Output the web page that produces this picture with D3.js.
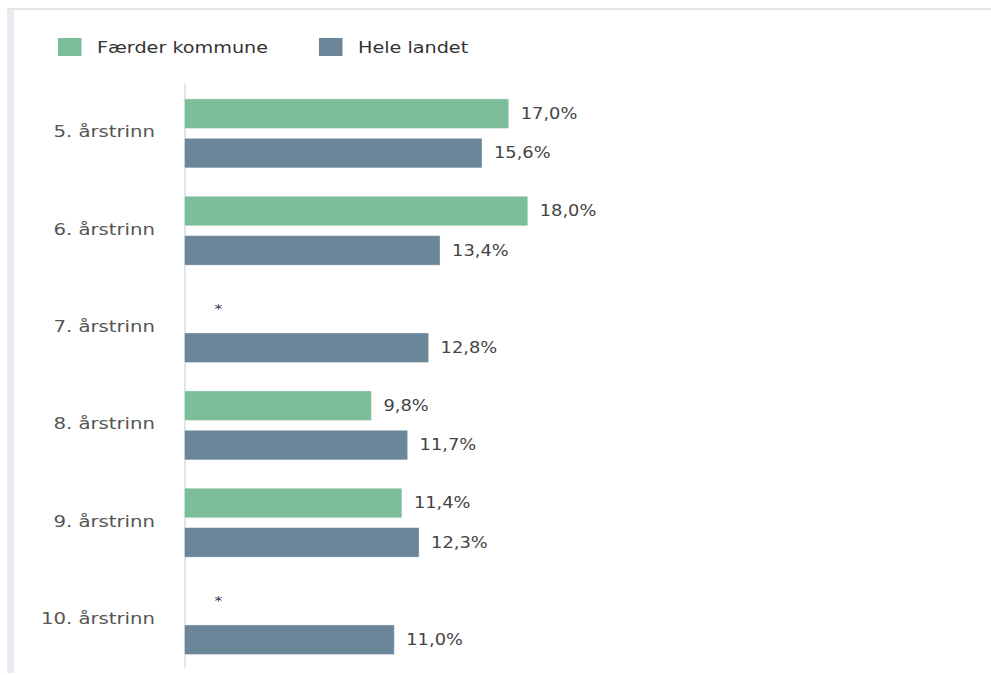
<!DOCTYPE html>
<html>
<head>
<meta charset="utf-8">
<script src="https://cdn.jsdelivr.net/npm/d3@7"></script>
<style>
  html, body { margin: 0; padding: 0; background: #fff; }
  svg { display: block; }
  text { font-family: "DejaVu Sans", "Liberation Sans", Arial, sans-serif; }
</style>
</head>
<body>
<svg id="chart" width="991" height="675"></svg>
<script>
// Andel elever per årstrinn (prosent)
const categories = ["5. årstrinn", "6. årstrinn", "7. årstrinn", "8. årstrinn", "9. årstrinn", "10. årstrinn"];
const seriesNames = ["Færder kommune", "Hele landet"];
const faerderValues = [17.0, 18.0, null, 9.8, 11.4, null];   // null = skjermet (*)
const landetValues  = [15.6, 13.4, 12.8, 11.7, 12.3, 11.0];
const seriesColors  = ["#7dbe9a", "#6b8599"];
const hiddenMark = "*";

const svg = d3.select("#chart");
const W = 991, H = 675;

// panel frame
svg.append("rect").attr("x", 7).attr("y", 8).attr("width", W - 7).attr("height", 2).attr("fill", "#e4e4e4");
svg.append("rect").attr("x", 7).attr("y", 10).attr("width", 7).attr("height", 663).attr("fill", "#e8ebf0");

const x = d3.scaleLinear().domain([0, 40]).range([184.5, 947.3]);
const y = d3.scaleBand().domain(categories).range([83, 667]).paddingInner(0).paddingOuter(0);
const ySeries = d3.scaleBand().domain(seriesNames).range([0, y.bandwidth()])
  .paddingInner(0.25).paddingOuter(0.36).align(0.56);

const nb = d3.formatLocale({ decimal: ",", thousands: " ", grouping: [3], currency: ["", " kr"] });
const fmt = v => nb.format(".1f")(v) + "%";

const rows = [];
categories.forEach((c, i) => {
  rows.push({ cat: c, series: seriesNames[0], value: faerderValues[i], color: seriesColors[0] });
  rows.push({ cat: c, series: seriesNames[1], value: landetValues[i], color: seriesColors[1] });
});

// category axis
const yAxis = d3.axisLeft(y).tickSize(0).tickPadding(0);
const gAxis = svg.append("g").attr("transform", "translate(184.5,0)").call(yAxis);
gAxis.select(".domain").attr("stroke", "#c8d2e6").attr("stroke-width", 1.2);
gAxis.selectAll(".tick text").remove();
gAxis.selectAll(".tick").append("text")
  .attr("transform", "translate(-29.5,0) scale(1.23,1)")
  .attr("text-anchor", "end")
  .attr("dy", "0.35em")
  .attr("fill", "#555")
  .attr("font-size", 16)
  .text(d => d);

// bars
const plot = svg.append("g");
const drawn = rows.filter(r => r.value != null);
plot.selectAll("rect.bar").data(drawn).join("rect")
  .attr("class", "bar")
  .attr("x", x(0))
  .attr("y", d => y(d.cat) + ySeries(d.series))
  .attr("width", d => x(d.value) - x(0))
  .attr("height", ySeries.bandwidth())
  .attr("fill", d => d.color)
  .attr("stroke", "#ffffff")
  .attr("stroke-opacity", 0.35)
  .attr("stroke-width", 1);

// value labels
plot.selectAll("text.val").data(rows).join("text")
  .attr("class", "val")
  .attr("transform", d => {
    const cy = y(d.cat) + ySeries(d.series) + ySeries.bandwidth() / 2;
    const cx = d.value == null ? x(0) + 30 : x(d.value) + 12;
    return `translate(${cx},${cy}) scale(1.19,1)`;
  })
  .attr("dy", "0.35em")
  .attr("fill", d => d.value == null ? "#3a3350" : "#444")
  .attr("font-size", d => d.value == null ? 13 : 15)
  .text(d => d.value == null ? hiddenMark : fmt(d.value));

// legend
const legendX = [58, 319];
const lg = svg.append("g").selectAll("g").data(seriesNames).join("g")
  .attr("transform", (d, i) => `translate(${legendX[i]},38)`);
lg.append("rect").attr("width", 23.5).attr("height", 18)
  .attr("fill", (d, i) => seriesColors[i]);
lg.append("text")
  .attr("transform", "translate(39,9) scale(1.2,1)")
  .attr("dy", "0.35em")
  .attr("fill", "#333")
  .attr("font-size", 16)
  .text(d => d);
</script>
</body>
</html>
